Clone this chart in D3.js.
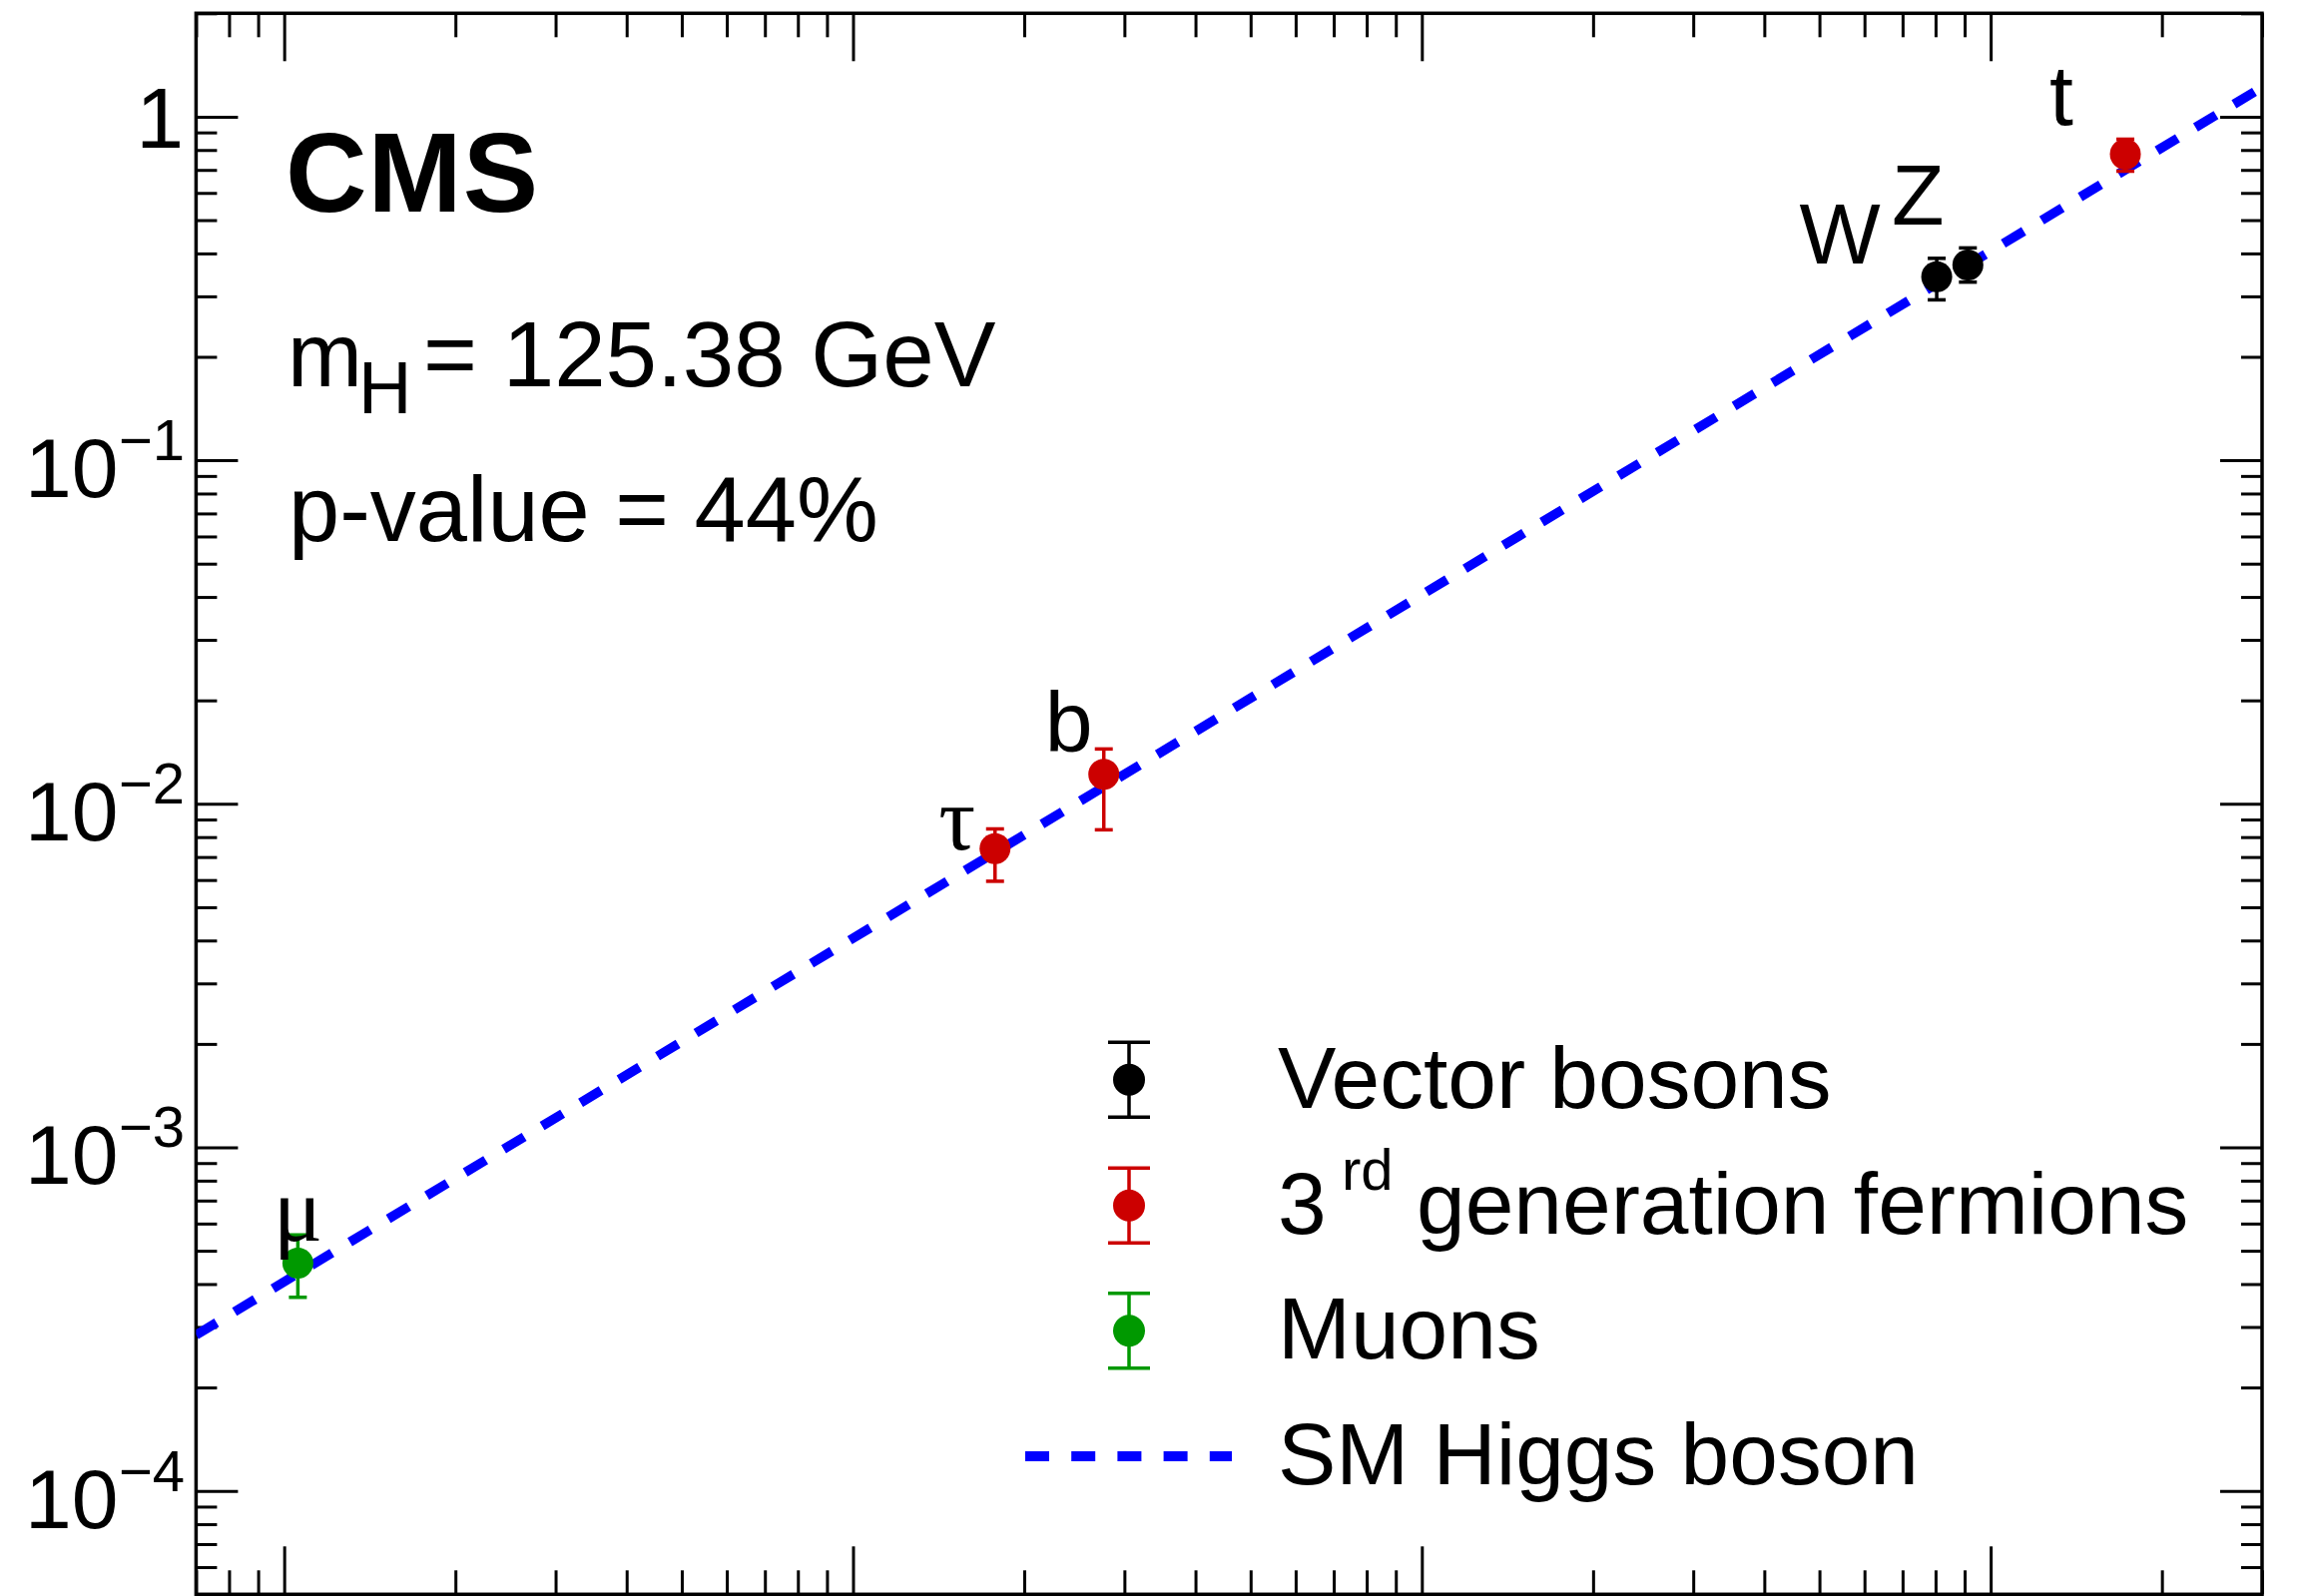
<!DOCTYPE html>
<html>
<head>
<meta charset="utf-8">
<script src="https://cdn.jsdelivr.net/npm/d3@7"></script>
<style>
  html, body { margin: 0; padding: 0; background: #fff; }
  svg { display: block; }
  text { font-family: "Liberation Sans", Arial, Helvetica, sans-serif; fill: #000; }
</style>
</head>
<body>
<svg id="chart" width="2304" height="1599"></svg>
<script>
// ---------------- DATA ----------------
const particles   = ["μ", "τ", "b", "W", "Z", "t"];
const masses      = [0.1057, 1.777, 2.76, 80.38, 91.19, 172.5];   // GeV
const values      = [4.60e-4, 7.40e-3, 0.01219, 0.342, 0.370, 0.778];
const errLow      = [3.66e-4, 5.95e-3, 8.40e-3, 0.293, 0.330, 0.694];
const errHigh     = [5.56e-4, 8.45e-3, 0.01444, 0.387, 0.415, 0.86];
const groups      = ["muon", "fermion", "fermion", "boson", "boson", "fermion"];

const legendKeys   = ["boson", "fermion", "muon", "sm"];
const legendLabels = ["Vector bosons", "3rd generation fermions", "Muons", "SM Higgs boson"];

const smVev = 246.22;                 // SM line: y = m / v
const smMassRange = [0.07, 300];

const yMajorTicks = [1e-4, 1e-3, 1e-2, 1e-1, 1];
const yTickExps   = ["−4", "−3", "−2", "−1", ""];
const xMajorTicks = [0.1, 1, 10, 100];

const infoLines = ["CMS", "m_H = 125.38 GeV", "p-value = 44%"];

// ---------------- STYLE / LAYOUT ----------------
const colors = { boson: "#000000", fermion: "#cc0000", muon: "#009900", sm: "#0000ff" };
const L = 196.4, R = 2266, T = 13.3, B = 1597.3;

const svg = d3.select("#chart");
const x = d3.scaleLog().domain([0.07, 300]).range([L, R]);
const y = d3.scaleLog().domain([5e-5, 2]).range([B, T]);

function minorTicks(lo, hi) {
  const out = [];
  for (let e = -6; e <= 4; e++) {
    for (let k = 2; k <= 9; k++) {
      const v = k * Math.pow(10, e);
      if (v >= lo * 0.9999 && v <= hi * 1.0001) out.push(v);
    }
  }
  return out;
}
const yMinor = minorTicks(5e-5, 2);
const xMinor = minorTicks(0.07, 300);

// ---------------- AXES TICKS ----------------
function tickGroup(axis, tx, ty) {
  const g = svg.append("g").attr("transform", `translate(${tx},${ty})`).call(axis);
  g.select(".domain").remove();
  g.selectAll("line").attr("stroke", "#000").attr("stroke-width", 3);
  g.selectAll("text").remove();
  return g;
}
tickGroup(d3.axisRight(y).tickValues(yMajorTicks).tickSize(42).tickSizeOuter(0).tickFormat(""), L, 0);
tickGroup(d3.axisRight(y).tickValues(yMinor).tickSize(21).tickSizeOuter(0).tickFormat(""), L, 0);
tickGroup(d3.axisLeft(y).tickValues(yMajorTicks).tickSize(42).tickSizeOuter(0).tickFormat(""), R, 0);
tickGroup(d3.axisLeft(y).tickValues(yMinor).tickSize(21).tickSizeOuter(0).tickFormat(""), R, 0);
tickGroup(d3.axisBottom(x).tickValues(xMajorTicks).tickSize(48).tickSizeOuter(0).tickFormat(""), 0, T);
tickGroup(d3.axisBottom(x).tickValues(xMinor).tickSize(24).tickSizeOuter(0).tickFormat(""), 0, T);
tickGroup(d3.axisTop(x).tickValues(xMajorTicks).tickSize(48).tickSizeOuter(0).tickFormat(""), 0, B);
tickGroup(d3.axisTop(x).tickValues(xMinor).tickSize(24).tickSizeOuter(0).tickFormat(""), 0, B);

// y tick labels
yMajorTicks.forEach((v, i) => {
  const exp = yTickExps[i];
  if (exp === "") {
    svg.append("text").attr("x", 184).attr("y", y(v) + 31.5)
      .attr("text-anchor", "end").attr("font-size", 86).text("1");
  } else {
    const t = svg.append("text").attr("x", 25).attr("y", y(v) + 37).attr("font-size", 84);
    t.append("tspan").text("10");
    t.append("tspan").attr("x", 119).attr("dy", -37).attr("font-size", 58).text(exp);
  }
});

// ---------------- FRAME ----------------
svg.append("rect").attr("x", L).attr("y", T).attr("width", R - L).attr("height", B - T)
  .attr("fill", "none").attr("stroke", "#000").attr("stroke-width", 3.5);

// ---------------- SM LINE ----------------
svg.append("clipPath").attr("id", "plotclip").append("rect")
  .attr("x", L).attr("y", T).attr("width", R - L).attr("height", B - T);
const smPts = smMassRange.map(m => [m, m / smVev]);
svg.append("path")
  .attr("clip-path", "url(#plotclip)")
  .attr("d", d3.line().x(d => x(d[0])).y(d => y(d[1]))(smPts))
  .attr("fill", "none").attr("stroke", colors.sm).attr("stroke-width", 9.5)
  .attr("stroke-dasharray", "24,21");

// ---------------- DATA POINTS ----------------
const pts = particles.map((p, i) => ({ p, m: masses[i], v: values[i], lo: errLow[i], hi: errHigh[i], g: groups[i] }));
const gp = svg.append("g");
pts.forEach(d => {
  const cx = x(d.m), c = colors[d.g];
  gp.append("line").attr("x1", cx).attr("x2", cx).attr("y1", y(d.lo)).attr("y2", y(d.hi))
    .attr("stroke", c).attr("stroke-width", 3.5);
  [d.lo, d.hi].forEach(e => {
    gp.append("line").attr("x1", cx - 9).attr("x2", cx + 9).attr("y1", y(e)).attr("y2", y(e))
      .attr("stroke", c).attr("stroke-width", 3.5);
  });
  gp.append("circle").attr("cx", cx).attr("cy", y(d.v)).attr("r", 15.5).attr("fill", c);
});

// point labels (offsets relative to the marker, in px)
const labelOffsets = { "μ": [0, -23], "τ": [-38, 1], "b": [-35, -23], "W": [-97, -13], "Z": [-50, -41], "t": [-64, -29] };
pts.forEach(d => {
  const off = labelOffsets[d.p];
  const greek = (d.p === "μ" || d.p === "τ");
  svg.append("text").attr("x", x(d.m) + off[0]).attr("y", y(d.v) + off[1])
    .attr("text-anchor", "middle").attr("font-size", greek ? 92 : 86)
    .style("font-family", greek ? "'Liberation Serif', 'DejaVu Serif', serif" : null)
    .text(d.p);
});

// ---------------- TEXT BLOCK ----------------
svg.append("text").attr("x", 286).attr("y", 211.7).attr("font-size", 113)
  .attr("letter-spacing", 1).attr("font-weight", "bold").text(infoLines[0]);
const mh = svg.append("text").attr("x", 288).attr("y", 386.7).attr("font-size", 90);
mh.append("tspan").text("m");
mh.append("tspan").attr("x", 359).attr("dy", 27).attr("font-size", 74).text("H");
mh.append("tspan").attr("x", 424).attr("dy", -27).attr("font-size", 92.5).text(infoLines[1].split("_H ")[1]);
svg.append("text").attr("x", 289).attr("y", 541.7).attr("font-size", 92).text(infoLines[2]);

// ---------------- LEGEND ----------------
const legRowY = [1081.7, 1207.7, 1333.3, 1459];
const legMarkX = 1131, legTextX = 1280;
legendKeys.forEach((k, i) => {
  const cy = legRowY[i];
  const c = colors[k];
  if (k === "sm") {
    svg.append("line").attr("x1", 1027).attr("x2", 1234).attr("y1", cy).attr("y2", cy)
      .attr("stroke", c).attr("stroke-width", 10).attr("stroke-dasharray", "24,22.2");
  } else {
    svg.append("line").attr("x1", legMarkX).attr("x2", legMarkX).attr("y1", cy - 37.5).attr("y2", cy + 37.5)
      .attr("stroke", c).attr("stroke-width", 3.5);
    [-37.5, 37.5].forEach(o => {
      svg.append("line").attr("x1", legMarkX - 21).attr("x2", legMarkX + 21).attr("y1", cy + o).attr("y2", cy + o)
        .attr("stroke", c).attr("stroke-width", 3.5);
    });
    svg.append("circle").attr("cx", legMarkX).attr("cy", cy).attr("r", 16).attr("fill", c);
  }
  const label = legendLabels[i];
  const t = svg.append("text").attr("x", legTextX).attr("y", cy + 28).attr("font-size", 87.5);
  if (label.startsWith("3rd")) {
    t.append("tspan").text("3");
    t.append("tspan").attr("x", 1344).attr("dy", -44).attr("font-size", 58).text("rd");
    t.append("tspan").attr("x", 1419).attr("dy", 44).text(label.slice(4));
  } else {
    t.text(label);
  }
});
</script>
</body>
</html>
